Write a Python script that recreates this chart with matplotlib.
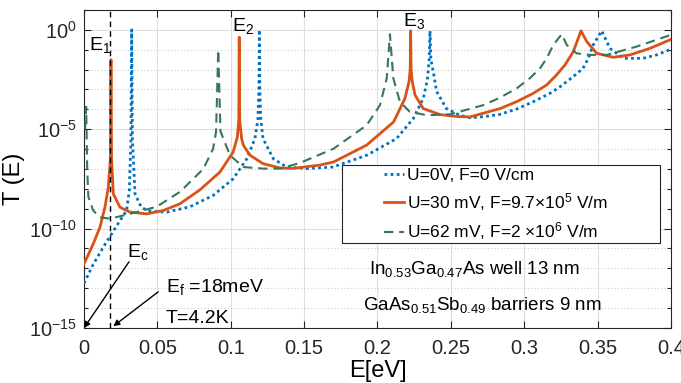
import numpy as np
import matplotlib
matplotlib.use("Agg")
import matplotlib.pyplot as plt
from matplotlib.ticker import FixedLocator, FuncFormatter, NullFormatter
from matplotlib.patches import Rectangle

plt.rcParams['font.family'] = ['Liberation Sans', 'DejaVu Sans']
plt.rcParams['mathtext.fontset'] = 'custom'
plt.rcParams['mathtext.rm'] = 'Liberation Sans'
plt.rcParams['mathtext.it'] = 'Liberation Sans:italic'
plt.rcParams['mathtext.default'] = 'regular'

# transmission: energy [eV] and log10(T)
e_u0 = [0.0, 0.0063, 0.013, 0.0188, 0.0245, 0.029, 0.0309, 0.0320, 0.0325, 0.0330,
        0.0348, 0.039, 0.0438, 0.0564, 0.0722, 0.088, 0.1017, 0.111, 0.1165, 0.1185,
        0.1192, 0.1195, 0.1198, 0.1205, 0.122, 0.129, 0.138, 0.1518, 0.1697, 0.1926,
        0.213, 0.2244, 0.2312, 0.234, 0.2352, 0.2358, 0.2364, 0.238, 0.2403, 0.247,
        0.256, 0.263, 0.272, 0.2835, 0.2949, 0.306, 0.3176, 0.3244, 0.3334, 0.340,
        0.3437, 0.347, 0.3528, 0.3584, 0.3675, 0.3811, 0.3902, 0.4]
lg_u0 = [-12.75, -11.8, -10.95, -10.27, -9.6, -9.1, -8.08, -5.5, 0.0, -5.5,
         -8.25, -8.92, -9.12, -9.17, -8.9, -8.33, -7.49, -6.48, -5.47, -4.5,
         -3.0, 0.0, -3.0, -4.5, -5.47, -6.48, -6.9, -6.98, -6.9, -6.31,
         -5.47, -4.46, -3.45, -2.5, -1.5, -0.05, -1.5, -2.1, -3.1, -3.96,
         -4.29, -4.42, -4.37, -4.25, -3.98, -3.62, -3.19, -2.86, -2.35, -1.94,
         -1.43, -0.76, -0.05, -0.93, -1.43, -1.43, -1.26, -0.97]

e_u30 = [0.0, 0.0063, 0.0109, 0.0143, 0.0166, 0.0180, 0.0184, 0.0188, 0.020, 0.0245,
         0.0313, 0.0427, 0.054, 0.0654, 0.079, 0.0927, 0.1017, 0.1045, 0.1055, 0.1058,
         0.1061, 0.1074, 0.1086, 0.113, 0.122, 0.1336, 0.1426, 0.161, 0.170, 0.1926,
         0.211, 0.2187, 0.2215, 0.2223, 0.2226, 0.2229, 0.2237, 0.2256, 0.2312, 0.2426,
         0.254, 0.263, 0.2835, 0.2949, 0.306, 0.3153, 0.322, 0.3278, 0.3334, 0.3387,
         0.3426, 0.3494, 0.3607, 0.372, 0.3857, 0.4]
lg_u30 = [-11.78, -10.77, -9.93, -8.92, -7.91, -6.5, -1.5, -6.5, -8.25, -8.92,
          -9.17, -9.26, -9.09, -8.75, -8.05, -7.15, -6.14, -5.4, -4.5, -0.37,
          -4.5, -5.47, -5.8, -6.3, -6.73, -6.95, -6.97, -6.8, -6.65, -5.8,
          -4.63, -3.45, -2.6, -2.0, -0.05, -2.0, -2.6, -3.28, -3.96, -4.26,
          -4.36, -4.38, -3.96, -3.61, -3.2, -2.77, -2.27, -1.76, -1.1, -0.05,
          -0.59, -1.18, -1.38, -1.26, -0.93, -0.48]

e_u62 = [0.0008, 0.0015, 0.0022, 0.003, 0.0063, 0.0109, 0.0177, 0.0268, 0.0359, 0.0495,
         0.0654, 0.0813, 0.088, 0.090, 0.0915, 0.093, 0.0995, 0.1086, 0.122, 0.1336,
         0.147, 0.170, 0.1926, 0.2017, 0.2063, 0.2085, 0.2108, 0.2153, 0.222, 0.2335,
         0.2494, 0.272, 0.2835, 0.2949, 0.3039, 0.3107, 0.3153, 0.3198, 0.3255, 0.329,
         0.3357, 0.3448, 0.3562, 0.3766, 0.4]
lg_u62 = [-5.0, -3.87, -7.0, -8.4, -9.09, -9.43, -9.5, -9.34, -9.17, -8.9,
          -8.15, -7.0, -5.98, -5.13, -1.0, -5.1, -6.31, -6.9, -6.98, -6.98,
          -6.7, -5.98, -4.8, -3.79, -2.44, -0.22, -2.44, -3.62, -4.12, -4.29,
          -4.25, -3.79, -3.41, -2.94, -2.43, -1.94, -1.43, -0.76, -0.22, -0.76,
          -1.18, -1.26, -1.26, -0.84, -0.25]

labels = ['U=0V, F=0 V/cm',
          'U=30 mV, F=9.7×10$^5$ V/m',
          'U=62 mV, F=2 ×10$^6$ V/m']

e_fermi = 0.018
x_ticks = [0, 0.05, 0.1, 0.15, 0.2, 0.25, 0.3, 0.35, 0.4]
y_major = [1e-15, 1e-10, 1e-5, 1e0]
y_minor = [10.0 ** k for k in range(-15, 2)]

fig = plt.figure(figsize=(6.81, 3.83), dpi=100)
ax = fig.add_axes([0.1233, 0.1436, 0.8620, 0.8303])

ax.plot(e_u0, 10.0 ** np.array(lg_u0), color='#0072BD', lw=2.0,
        dashes=(1.0, 1.2), label=labels[0], zorder=3)
ax.plot(e_u30, 10.0 ** np.array(lg_u30), color='#D95319', lw=2.0,
        label=labels[1], zorder=3)
ax.plot(e_u62, 10.0 ** np.array(lg_u62), color='#3A7556', lw=1.5,
        dashes=(4.5, 2.8), label=labels[2], zorder=3)

ax.axvline(e_fermi, color='k', lw=1.0, ls=(0, (4, 3)), zorder=3)

ax.set_yscale('log')
ax.set_xlim(0, 0.4)
ax.set_ylim(1e-15, 1e1)
ax.xaxis.set_major_locator(FixedLocator(x_ticks))
ax.xaxis.set_major_formatter(FuncFormatter(lambda v, p: '%g' % v))
ax.yaxis.set_major_locator(FixedLocator(y_major))
ax.yaxis.set_minor_locator(FixedLocator(y_minor))
ax.yaxis.set_major_formatter(FuncFormatter(lambda v, p: r'$10^{%d}$' % round(np.log10(v))))
ax.yaxis.set_minor_formatter(NullFormatter())

ax.tick_params(which='both', direction='in', top=True, right=True,
               color='#262626', labelcolor='#262626', width=0.8)
ax.tick_params(which='major', length=5)
ax.tick_params(which='minor', length=3)
ax.tick_params(axis='x', labelsize=14.5, pad=8)
ax.tick_params(axis='y', labelsize=14.5, pad=5)
for s in ax.spines.values():
    s.set_color('#262626')
    s.set_linewidth(0.8)

ax.grid(True, which='major', color='#dedede', lw=0.8, ls='-')
ax.grid(True, which='minor', axis='y', color='#cccccc', lw=0.8, ls=(0, (1, 2)))
ax.set_axisbelow(True)

ax.set_xlabel('E[eV]', fontsize=17, labelpad=1)
ax.set_ylabel('T (E)', fontsize=17)
ax.yaxis.set_label_coords(-0.1005, 0.47)

# legend box drawn as an opaque patch, entries on top of it
ax.add_patch(Rectangle((0.4395, 0.267), 0.5415, 0.2456, transform=ax.transAxes,
                       facecolor='white', edgecolor='#262626', lw=0.8, zorder=4))
leg = ax.legend(loc='upper left', bbox_to_anchor=(0.506, 0.515), frameon=False,
                fontsize=12.5, handlelength=1.15, handletextpad=0.15,
                borderpad=0.2, borderaxespad=0, labelspacing=0.45)
leg.set_zorder(5)

txt = dict(fontsize=14, color='k', zorder=6)
ax.text(0.0034, 10.0 ** -1.0, '$E_1$', ha='left', va='baseline', **txt)
ax.text(0.1008, 10.0 ** -0.08, '$E_2$', ha='left', va='baseline', **txt)
ax.text(0.2176, 10.0 ** 0.17, '$E_3$', ha='left', va='baseline', **txt)
ax.text(0.029, 10.0 ** -11.42, '$E_c$', ha='left', va='baseline', **txt)
ax.text(0.0556, 10.0 ** -13.18, '$E_f$ =18meV', ha='left', va='baseline', **txt)
ax.text(0.0556, 10.0 ** -14.76, 'T=4.2K', ha='left', va='baseline', **txt)
ax.text(0.194, 10.0 ** -12.28, '$In_{0.53}Ga_{0.47}$As well 13 nm',
        ha='left', va='baseline', fontsize=13.5, zorder=6)
ax.text(0.190, 10.0 ** -14.09, '$GaAs_{0.51}Sb_{0.49}$ barriers 9 nm',
        ha='left', va='baseline', fontsize=13.5, zorder=6)

arrow = dict(arrowstyle='-|>', color='k', lw=1.0, mutation_scale=9, shrinkA=0, shrinkB=0)
ax.annotate('', xy=(0.0, 1e-15), xytext=(0.0307, 10.0 ** -11.67), arrowprops=arrow,
            annotation_clip=False, zorder=6)
ax.annotate('', xy=(0.020, 10.0 ** -14.91), xytext=(0.0506, 10.0 ** -13.18),
            arrowprops=arrow, annotation_clip=False, zorder=6)

fig.savefig('out.png', dpi=100)
